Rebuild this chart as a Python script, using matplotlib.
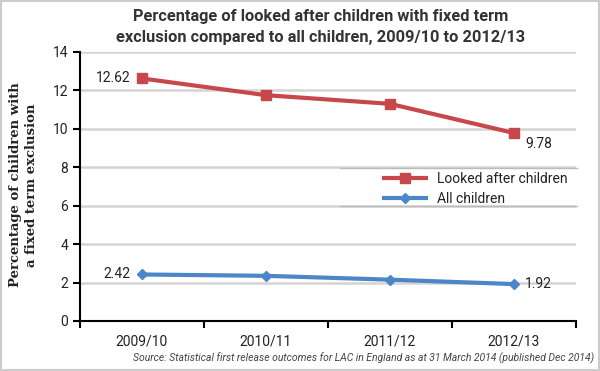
import matplotlib.pyplot as plt
from matplotlib.lines import Line2D
from matplotlib.patches import Rectangle

# data
years = ["2009/10", "2010/11", "2011/12", "2012/13"]
looked_after = [12.62, 11.75, 11.3, 9.78]
all_children = [2.42, 2.35, 2.15, 1.92]

red = "#c8474b"
blue = "#4a86c8"
text_col = "#222222"

plt.rcParams['font.family'] = ['Roboto', 'DejaVu Sans']

fig = plt.figure(figsize=(6, 3.71), dpi=100)
ax = fig.add_axes([0.1333, 0.1348, 0.8267, 0.7252])

x = list(range(len(years)))
ax.plot(x, looked_after, color=red, lw=3, marker='s', ms=7, label="Looked after children", zorder=3)
ax.plot(x, all_children, color=blue, lw=3, marker='D', ms=5, label="All children", zorder=3)

ax.set_xlim(-0.5, 3.5)
ax.set_ylim(0, 14)
ax.set_yticks(range(0, 15, 2))
ax.set_xticks([i - 0.5 for i in range(5)])
ax.set_xticklabels([])
ax.set_xticks(x, minor=True)
ax.set_xticklabels(years, minor=True, fontsize=10, color=text_col)
ax.tick_params(axis='x', which='minor', length=0, pad=10)
ax.tick_params(axis='x', which='major', length=5, width=1.5, direction='out')
ax.tick_params(axis='y', length=5, width=1.5, labelsize=10, labelcolor=text_col)

ax.grid(True, axis='y', color='#d4d4d4', lw=1.8, zorder=0)
ax.set_axisbelow(True)
for s in ['top', 'right']:
    ax.spines[s].set_visible(False)
ax.spines['left'].set_linewidth(1.5)
ax.spines['bottom'].set_linewidth(1.5)

# data labels
ax.annotate(f"{looked_after[0]:.2f}", (x[0], looked_after[0]), xytext=(-8, 0), textcoords='offset points',
            ha='right', va='center', fontsize=10, color=text_col)
ax.annotate(f"{looked_after[-1]:.2f}", (x[-1], looked_after[-1]), xytext=(8, -8), textcoords='offset points',
            ha='left', va='center', fontsize=10, color=text_col)
ax.annotate(f"{all_children[0]:.2f}", (x[0], all_children[0]), xytext=(-8, 0), textcoords='offset points',
            ha='right', va='center', fontsize=10, color=text_col)
ax.annotate(f"{all_children[-1]:.2f}", (x[-1], all_children[-1]), xytext=(8, 0), textcoords='offset points',
            ha='left', va='center', fontsize=10, color=text_col)

leg = ax.legend(loc='upper right', bbox_to_anchor=(1.0, 0.586), frameon=False, fontsize=10,
                handlelength=3, labelcolor=text_col, borderaxespad=0.2, labelspacing=0.45)
fig.add_artist(Line2D([0.567, 0.962], [1 - 168 / 371, 1 - 168 / 371], color='#bbbbbb', lw=1))
fig.add_artist(Line2D([0.567, 0.962], [1 - 206 / 371, 1 - 206 / 371], color='#bbbbbb', lw=1))

fig.text(24 / 600, 1 - 185 / 371, "Percentage of children with\na fixed term exclusion", family='DejaVu Serif',
         fontweight='bold', fontsize=9.5, color=text_col, linespacing=1.3, rotation=90,
         ha='center', va='center', multialignment='center')

fig.text(0.535, 0.975, "Percentage of looked after children with fixed term\nexclusion compared to all children, 2009/10 to 2012/13",
         ha='center', va='top', fontsize=11.8, fontweight='bold', color='#333333', linespacing=1.45)

fig.text(0.99, 0.035, "Source: Statistical first release outcomes for LAC in England as at 31 March 2014 (published Dec 2014)",
         ha='right', va='center', fontsize=7.5, style='italic', color='#444444')

fig.add_artist(Rectangle((0.002, 0.003), 0.996, 0.994, transform=fig.transFigure, fill=False,
                         edgecolor='#cccccc', lw=1.5))

fig.savefig("out.png", dpi=100)
